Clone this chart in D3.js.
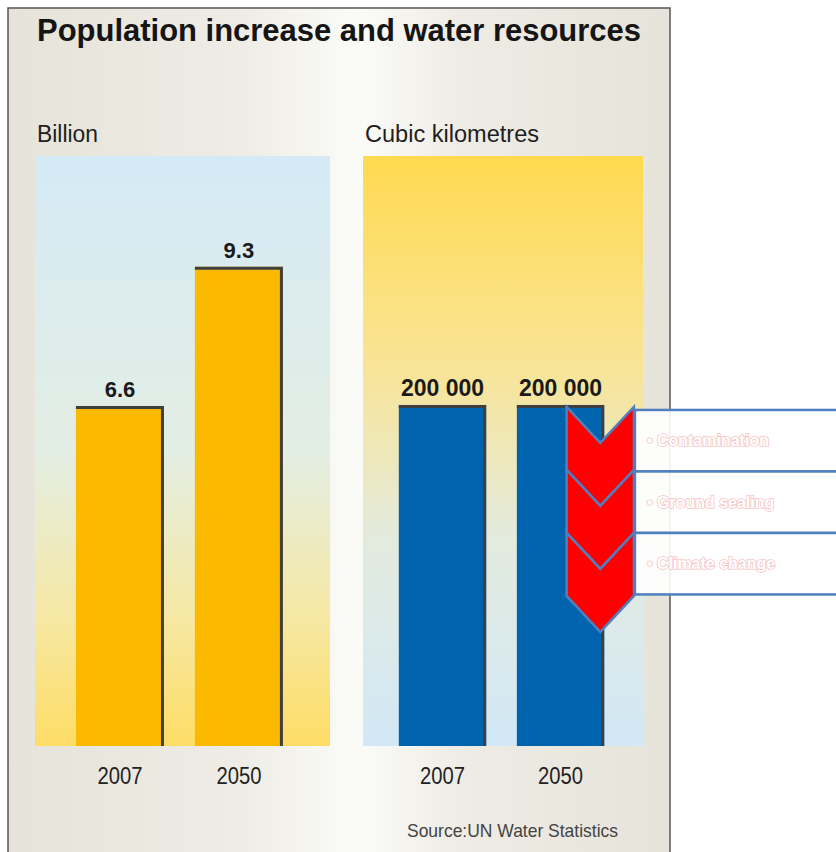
<!DOCTYPE html>
<html>
<head>
<meta charset="utf-8">
<script src="https://cdn.jsdelivr.net/npm/d3@7"></script>
<style>
  body { margin: 0; background: #fff; }
  svg { display: block; font-family: "Liberation Sans", Arial, sans-serif; }
</style>
</head>
<body>
<div id="chart"></div>
<script>
const years = ["2007", "2050"];
const population = [6.6, 9.3];          // billion
const waterVolume = [200000, 200000];   // cubic kilometres
const threats = ["Contamination", "Ground sealing", "Climate change"];

const width = 836, height = 852;
const plotTop = 156, plotBottom = 746;

const svg = d3.select("#chart").append("svg")
    .attr("width", width)
    .attr("height", height);

const defs = svg.append("defs");

function linGrad(id, stops, horizontal) {
    const g = defs.append("linearGradient").attr("id", id)
        .attr("x1", 0).attr("y1", 0)
        .attr("x2", horizontal ? 1 : 0).attr("y2", horizontal ? 0 : 1);
    stops.forEach(s => g.append("stop").attr("offset", s[0]).attr("stop-color", s[1]));
}
linGrad("panelBg", [["0%", "#e6e3da"], ["35%", "#eeece5"], ["50%", "#f9f9f5"], ["54%", "#fafaf7"], ["68%", "#eeece5"], ["100%", "#e6e3da"]], true);
linGrad("leftBg", [["0%", "#d5eaf6"], ["50%", "#e3eee4"], ["78%", "#f6e8a4"], ["100%", "#fedd66"]]);
linGrad("rightBg", [["0%", "#ffda50"], ["35%", "#f9e495"], ["65%", "#e3ebde"], ["100%", "#d2e8f7"]]);

// panel
svg.append("rect")
    .attr("x", 8).attr("y", 8)
    .attr("width", 662).attr("height", height + 10)
    .attr("fill", "url(#panelBg)")
    .attr("stroke", "#555")
    .attr("stroke-width", 1.5);

svg.append("text")
    .attr("x", 37).attr("y", 41)
    .attr("font-size", 31).attr("font-weight", "bold")
    .attr("fill", "#151515")
    .attr("textLength", 604).attr("lengthAdjust", "spacingAndGlyphs")
    .text("Population increase and water resources");

const fmtPop = d3.format(".1f");
const fmtVol = d3.formatLocale({decimal: ".", thousands: " ", grouping: [3], currency: ["", ""]}).format(",");

function drawPanel(opt) {
    const g = svg.append("g");
    const x = d3.scaleBand().domain(years)
        .range([opt.left, opt.right])
        .paddingInner(0.26).paddingOuter(opt.po).align(opt.align);
    const y = d3.scaleLinear().domain([0, opt.max]).range([plotBottom, plotTop]);

    g.append("rect")
        .attr("x", opt.left).attr("y", plotTop)
        .attr("width", opt.right - opt.left).attr("height", plotBottom - plotTop)
        .attr("fill", opt.bg);

    g.append("text")
        .attr("x", opt.left + 2).attr("y", 142)
        .attr("font-size", 23).attr("fill", "#1e1e1e")
        .attr("textLength", opt.unitWidth).attr("lengthAdjust", "spacingAndGlyphs")
        .text(opt.unit);

    const bars = g.selectAll(".bar").data(opt.values).join("g");
    bars.append("rect")
        .attr("x", (d, i) => x(years[i]))
        .attr("y", d => y(d))
        .attr("width", x.bandwidth())
        .attr("height", d => plotBottom - y(d))
        .attr("fill", opt.color);
    // dark shadow on top and right edge
    bars.append("path")
        .attr("d", (d, i) => {
            const x0 = x(years[i]), x1 = x0 + x.bandwidth() - 1.5;
            return `M${x0},${y(d) + 1.5}H${x1}V${plotBottom}`;
        })
        .attr("fill", "none")
        .attr("stroke", "#3f3f3f")
        .attr("stroke-width", 3);

    bars.append("text")
        .attr("x", (d, i) => x(years[i]) + x.bandwidth() / 2)
        .attr("y", d => y(d) - 9)
        .attr("text-anchor", "middle")
        .attr("font-size", opt.labelSize).attr("font-weight", "bold")
        .attr("fill", "#1a1a1a")
        .text(opt.fmt);

    g.selectAll(".year").data(years).join("text")
        .attr("x", d => x(d) + x.bandwidth() / 2)
        .attr("y", 784)
        .attr("text-anchor", "middle")
        .attr("font-family", "'Liberation Sans Narrow', 'Liberation Sans', sans-serif")
        .attr("font-size", 23).attr("fill", "#222")
        .attr("textLength", 45).attr("lengthAdjust", "spacingAndGlyphs")
        .text(d => d);
    return {x, y};
}

drawPanel({left: 35, right: 330, po: 0.37, align: 0.465, max: 11.45,
    bg: "url(#leftBg)", color: "#fbb900", unit: "Billion", unitWidth: 61,
    values: population, fmt: fmtPop, labelSize: 22});

const right = drawPanel({left: 363, right: 643, po: 0.316, align: 0.48, max: 346000,
    bg: "url(#rightBg)", color: "#0063ae", unit: "Cubic kilometres", unitWidth: 174,
    values: waterVolume, fmt: fmtVol, labelSize: 23});

svg.append("text")
    .attr("x", 407).attr("y", 837)
    .attr("font-family", "'Liberation Sans Narrow', 'Liberation Sans', sans-serif")
    .attr("font-size", 19).attr("fill", "#444")
    .attr("textLength", 211).attr("lengthAdjust", "spacingAndGlyphs")
    .text("Source:UN Water Statistics");

// threats to the 2050 water volume: chevrons and boxes
const bx = right.x("2050"), bw = right.x.bandwidth();
const topW = right.y(waterVolume[1]);
const cx0 = bx + bw * 0.57, cx1 = bx + bw * 1.34, cxm = (cx0 + cx1) / 2;
const tY = d3.scaleBand().domain(threats).range([topW + 2, topW + 2 + 3 * 63]);
const notch = 36;

svg.selectAll(".chev").data(threats).join("path")
    .attr("d", d => {
        const y0 = tY(d), h = tY.bandwidth();
        return `M${cx0},${y0}L${cxm},${y0 + notch}L${cx1},${y0}L${cx1},${y0 + h}L${cxm},${y0 + h + notch}L${cx0},${y0 + h}Z`;
    })
    .attr("fill", "#ff0000")
    .attr("stroke", "#4f7fbf")
    .attr("stroke-width", 2.5)
    .attr("stroke-linejoin", "miter");

const boxY = d3.scaleBand().domain(threats).range([topW + 5, topW + 5 + 3 * 61.5]);
svg.selectAll(".box").data(threats).join("rect")
    .attr("x", cx1 + 1)
    .attr("y", d => boxY(d))
    .attr("width", 260)
    .attr("height", boxY.bandwidth())
    .attr("fill", "#fff")
    .attr("fill-opacity", 0.9)
    .attr("stroke", "#4f7fbf")
    .attr("stroke-width", 2.5);

svg.selectAll(".threat").data(threats).join("text")
    .attr("x", cx1 + 13)
    .attr("y", d => boxY(d) + boxY.bandwidth() / 2)
    .attr("dy", "0.35em")
    .attr("font-size", 16).attr("font-weight", "bold")
    .attr("fill", "#ffffff")
    .attr("stroke", "#f6c4c4")
    .attr("stroke-width", 1.6)
    .attr("paint-order", "stroke")
    .text(d => "\u2022 " + d);
</script>
</body>
</html>
